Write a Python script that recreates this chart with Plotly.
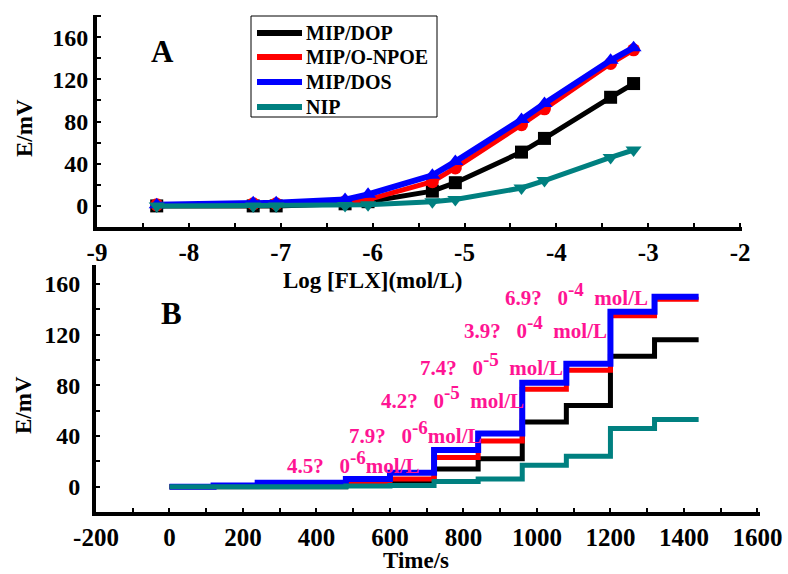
import plotly.graph_objects as go

# ---------------- data ----------------
series_names = ["MIP/DOP", "MIP/O-NPOE", "MIP/DOS", "NIP"]
series_colors = ["#000000", "#FF0000", "#0000FF", "#008080"]
series_symbols = ["square", "circle", "triangle-up", "triangle-down"]

# Panel A: log concentration
log_conc = [-8.35, -7.30, -7.05, -6.30, -6.05, -5.35, -5.10, -4.38, -4.13, -3.41, -3.16]
e_dop = [0, 0, 0, 2, 4, 14, 22, 51, 64, 103, 116]
e_onpoe = [1, 2, 2, 4, 6, 23, 36, 77, 92, 135, 148]
e_dos = [1, 3, 3, 6, 11, 29, 42, 82, 97, 138, 150]
e_nip = [0, 0, 0, 0.5, 1, 4, 6, 17, 24, 46, 53]
series_values = [e_dop, e_onpoe, e_dos, e_nip]

# Panel B: time (s) at which each addition is made, plus the end of the record
times = [0, 120, 240, 360, 480, 600, 720, 840, 960, 1080, 1200, 1320, 1440]

# tick labels
xa_ticks = [-9, -8, -7, -6, -5, -4, -3, -2]
xa_ticktext = ["-9", "-8", "-7", "-6", "-5", "-4", "-3", "-2"]
xb_ticks = [-200, 0, 200, 400, 600, 800, 1000, 1200, 1400, 1600]
xb_ticktext = ["-200", "0", "200", "400", "600", "800", "1000", "1200", "1400", "1600"]
y_ticks = [0, 40, 80, 120, 160]
y_ticktext = ["0", "40", "80", "120", "160"]

# concentration labels in panel B (text as printed in the figure)
conc_mantissa = ["4.5?", "7.9?", "4.2?", "7.4?", "3.9?", "6.9?"]
conc_exponent = ["-6", "-6", "-5", "-5", "-4", "-4"]
conc_unit = "mol/L"
unit_gap = [0, 0, 2, 2, 2, 2]  # non-breaking spaces before the unit

# label placement (left edge / vertical centre, pixels in the 788x574 picture)
lab_x = [285, 347, 379, 418, 462, 503]
lab_y = [462, 432, 397, 364, 327, 294]

# ---------------- figure ----------------
W, H = 788, 574
FONT = "Liberation Serif"
PINK = "#FF1493"
NB = "\u00a0"

fig = go.Figure()

for name, col, sym, vals in zip(series_names, series_colors, series_symbols, series_values):
    fig.add_trace(go.Scatter(
        x=log_conc, y=vals, mode="lines+markers", name=name,
        line=dict(color=col, width=6 if col == "#0000FF" else 5),
        marker=dict(symbol=sym, size=14 if "triangle" in sym else 13, color=col),
        xaxis="x", yaxis="y", showlegend=False,
    ))

for name, col, vals in zip(series_names, series_colors, series_values):
    y_steps = [0] + list(vals) + [vals[-1]]
    fig.add_trace(go.Scatter(
        x=times, y=y_steps, mode="lines", name=name, line_shape="hv",
        line=dict(color=col, width=6 if col == "#0000FF" else 5),
        xaxis="x2", yaxis="y2", showlegend=False,
    ))


def px_x(p):
    return p / W


def px_y(p):
    return 1 - p / H


tickfont_x = dict(family=FONT, size=25, color="black", weight="bold")
tickfont_y = dict(family=FONT, size=24, color="black", weight="bold")
axis_common = dict(showline=True, linewidth=4, linecolor="black", showgrid=False,
                   zeroline=False, ticks="inside", ticklen=4, tickwidth=1.5,
                   tickcolor="black", mirror=False, automargin=False, tickmode="array")

fig.update_layout(
    width=W, height=H,
    margin=dict(l=0, r=0, t=0, b=0),
    paper_bgcolor="white", plot_bgcolor="white",
    showlegend=False,
    xaxis=dict(domain=[px_x(97), px_x(742)], range=[-9, -1.98], anchor="y",
               tickvals=xa_ticks, ticktext=xa_ticktext, tickfont=tickfont_x,
               minor=dict(dtick=0.5, tick0=-9, ticks="inside", ticklen=4, tickcolor="black"),
               **axis_common),
    yaxis=dict(domain=[px_y(227), px_y(15)], range=[-20, 181], anchor="x",
               tickvals=y_ticks, ticktext=y_ticktext, tickfont=tickfont_y,
               minor=dict(dtick=20, tick0=0, ticks="inside", ticklen=4, tickcolor="black"),
               **axis_common),
    xaxis2=dict(domain=[px_x(96), px_x(760)], range=[-200, 1607], anchor="y2",
                tickvals=xb_ticks, ticktext=xb_ticktext, tickfont=tickfont_x,
                minor=dict(dtick=100, tick0=0, ticks="inside", ticklen=4, tickcolor="black"),
                **axis_common),
    yaxis2=dict(domain=[px_y(512), px_y(265)], range=[-20, 175], anchor="x2",
                tickvals=y_ticks, ticktext=y_ticktext, tickfont=tickfont_y,
                ticklabelstandoff=7,
                minor=dict(dtick=20, tick0=0, ticks="inside", ticklen=4, tickcolor="black"),
                **axis_common),
)

annotations = []
shapes = []

# ---- legend (drawn by hand to match the reference box) ----
leg_left, leg_top, leg_right, leg_bottom = 251, 16, 437, 117
shapes.append(dict(type="rect", xref="paper", yref="paper",
                   x0=px_x(leg_left), x1=px_x(leg_right), y0=px_y(leg_bottom), y1=px_y(leg_top),
                   line=dict(color="black", width=1), fillcolor="white", layer="above"))
leg_rows = [33, 57, 82, 107]
for name, col, ry in zip(series_names, series_colors, leg_rows):
    shapes.append(dict(type="line", xref="paper", yref="paper",
                       x0=px_x(257), x1=px_x(302), y0=px_y(ry), y1=px_y(ry),
                       line=dict(color=col, width=6), layer="above"))
    annotations.append(dict(text=name, x=px_x(304), y=px_y(ry), xref="paper", yref="paper",
                            showarrow=False, xanchor="left", yanchor="middle",
                            font=dict(family=FONT, size=20, color="black", weight="bold")))

# axis titles & panel letters
title_font = dict(family=FONT, size=23, color="black", weight="bold")
annotations.append(dict(text="Log [FLX](mol/L)", x=px_x(373), y=px_y(280), xref="paper", yref="paper",
                        showarrow=False, font=title_font, xanchor="center", yanchor="middle"))
annotations.append(dict(text="Time/s", x=px_x(416), y=0, xref="paper", yref="paper",
                        showarrow=False, font=title_font, xanchor="center", yanchor="bottom",
                        borderpad=0))
annotations.append(dict(text="E/mV", x=px_x(25), y=px_y(128), xref="paper", yref="paper",
                        showarrow=False, font=title_font, textangle=-90,
                        xanchor="center", yanchor="middle"))
annotations.append(dict(text="E/mV", x=px_x(23), y=px_y(405), xref="paper", yref="paper",
                        showarrow=False, font=title_font, textangle=-90,
                        xanchor="center", yanchor="middle"))
letter_font = dict(family=FONT, size=31, color="black", weight="bold")
annotations.append(dict(text="A", x=px_x(162), y=px_y(51), xref="paper", yref="paper",
                        showarrow=False, font=letter_font, xanchor="center", yanchor="middle"))
annotations.append(dict(text="B", x=px_x(171), y=px_y(314), xref="paper", yref="paper",
                        showarrow=False, font=letter_font, xanchor="center", yanchor="middle"))

# concentration labels
for i in range(len(conc_mantissa)):
    txt = (conc_mantissa[i] + NB * 3 + "0"
           + '<sup><span style="font-size:19px">' + conc_exponent[i] + "</span></sup>"
           + NB * unit_gap[i] + conc_unit)
    annotations.append(dict(text=txt, x=px_x(lab_x[i]), y=px_y(lab_y[i]),
                            xref="paper", yref="paper", showarrow=False,
                            xanchor="left", yanchor="middle",
                            font=dict(family=FONT, size=21, color=PINK, weight="bold")))

fig.update_layout(annotations=annotations, shapes=shapes)

fig.write_html("out.html")
